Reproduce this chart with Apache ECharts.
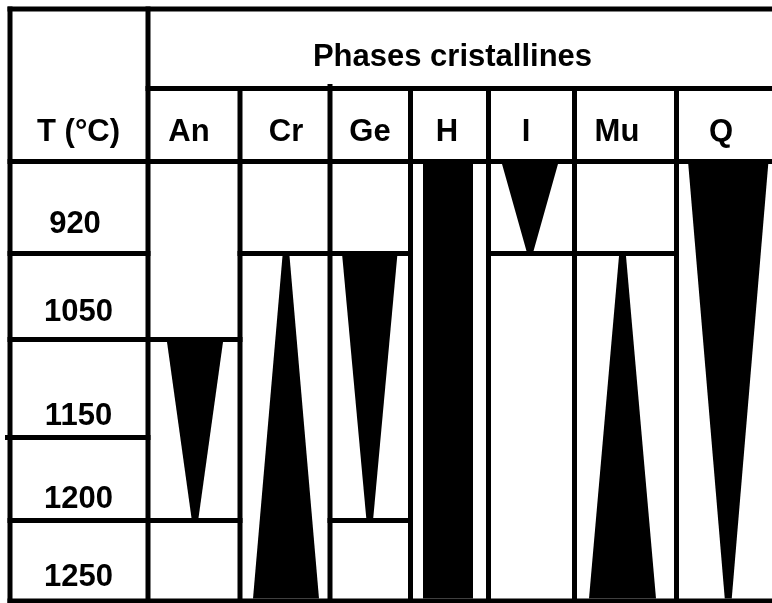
<!DOCTYPE html>
<html><head><meta charset="utf-8">
<script src="https://cdn.jsdelivr.net/npm/echarts@6/dist/echarts.min.js"></script>
<style>html,body{margin:0;padding:0;background:#fff}#c{width:772px;height:603px}</style>
</head><body><div id="c"></div>
<script>
// ---------------- data ----------------
const phases = ['An', 'Cr', 'Ge', 'H', 'I', 'Mu', 'Q'];
const temperatures = [920, 1050, 1150, 1200, 1250];
const phaseStart = [1150, 1050, 1050, 920, 920, 1050, 920];
const phaseEnd = [1200, 1250, 1200, 1250, 920, 1250, 1250];
const phaseTrend = ['down', 'up', 'down', 'flat', 'down', 'up', 'down'];
const groupTitle = 'Phases cristallines';
const tempTitle = 'T (°C)';

// ---------------- layout (grid units = px) ----------------
const colEdges = [10, 148, 240, 330, 410.5, 488.5, 574.5, 676.5, 782];
const tableTop = 9, groupLine = 88.5, headerLine = 161.5;
const rowEdges = [161.5, 253.5, 339.5, 437.5, 520.5, 601];
const markWidth = [56, 66, 55, 50, 56, 67, 80];
const markShift = [1, 1, -0.5, -1.5, -1.5, -3, -1];
const apexWidth = 7;
const lineW = 5;
const phaseLabelX = [189, 286, 370, 447, 526, 617, 721];
const phaseLabelY = 132;
const tempLabelX = [75, 78.5, 78.5, 78.5, 78.5];
const tempLabelY = [224, 312, 416, 499, 577];
const groupLabelPos = [452.5, 57];
const tempTitlePos = [78.5, 132];
const FONT = {fontSize: 31, fontWeight: 'bold', fontFamily: 'Liberation Sans, Arial, sans-serif'};

// ---------------- table rules ----------------
const segs = [];
const W = colEdges[colEdges.length - 1];
const B = rowEdges[rowEdges.length - 1];
segs.push([colEdges[0], tableTop, W, tableTop]);
segs.push([colEdges[1], groupLine, W, groupLine]);
segs.push([colEdges[0], headerLine, W, headerLine]);
segs.push([colEdges[0], B, W, B]);
segs.push([colEdges[0], tableTop, colEdges[0], B]);
segs.push([colEdges[1], tableTop, colEdges[1], B]);
for (let k = 2; k < colEdges.length - 1; k++) segs.push([colEdges[k], groupLine, colEdges[k], B]);
segs.push([colEdges[3], groupLine - 2, colEdges[3], groupLine]);
for (let r = 1; r < rowEdges.length - 1; r++) segs.push([colEdges[0], rowEdges[r], colEdges[1], rowEdges[r]]);
segs.push([colEdges[0] - 2.5, rowEdges[3], colEdges[0], rowEdges[3]]);
phases.forEach((p, i) => {
  const s = temperatures.indexOf(phaseStart[i]);
  const e = temperatures.indexOf(phaseEnd[i]);
  const x1 = colEdges[i + 1], x2 = colEdges[i + 2];
  if (s > 0) segs.push([x1, rowEdges[s], x2, rowEdges[s]]);
  if (e < temperatures.length - 1) segs.push([x1, rowEdges[e + 1], x2, rowEdges[e + 1]]);
});

// ---------------- marks ----------------
const markData = phases.map((p, i) => [i, temperatures.indexOf(phaseStart[i]), temperatures.indexOf(phaseEnd[i])]);

// ---------------- labels ----------------
const labelData = [];
labelData.push([groupLabelPos[0], groupLabelPos[1], groupTitle]);
labelData.push([tempTitlePos[0], tempTitlePos[1], tempTitle]);
phases.forEach((p, i) => labelData.push([phaseLabelX[i], phaseLabelY, p]));
temperatures.forEach((t, i) => labelData.push([tempLabelX[i], tempLabelY[i], String(t)]));

const chart = echarts.init(document.getElementById('c'), null, {renderer: 'canvas'});
chart.setOption({
  animation: false,
  backgroundColor: '#ffffff',
  grid: {left: 0, right: 0, top: 0, bottom: 0},
  xAxis: {type: 'value', min: 0, max: 772, show: false},
  yAxis: {type: 'value', min: 0, max: 603, inverse: true, show: false},
  series: [
    {
      type: 'custom', coordinateSystem: 'cartesian2d', silent: true, z: 2,
      data: markData,
      renderItem: function (params, api) {
        const i = api.value(0), s = api.value(1), e = api.value(2);
        const cx = (colEdges[i + 1] + colEdges[i + 2]) / 2 + markShift[i];
        const yT = rowEdges[s] + lineW / 2, yB = rowEdges[e + 1] - lineW / 2;
        const w = markWidth[i];
        let topW = w, botW = w;
        if (phaseTrend[i] === 'down') botW = apexWidth;
        if (phaseTrend[i] === 'up') topW = apexWidth;
        const pts = [[cx - topW / 2, yT], [cx + topW / 2, yT], [cx + botW / 2, yB], [cx - botW / 2, yB]].map(p => api.coord(p));
        return {type: 'polygon', shape: {points: pts}, style: {fill: '#000'}};
      }
    },
    {
      type: 'custom', coordinateSystem: 'cartesian2d', silent: true, z: 3,
      data: segs,
      renderItem: function (params, api) {
        const a = api.coord([api.value(0), api.value(1)]);
        const b = api.coord([api.value(2), api.value(3)]);
        return {type: 'line', shape: {x1: a[0], y1: a[1], x2: b[0], y2: b[1]},
          style: {stroke: '#000', lineWidth: lineW, lineCap: 'square'}};
      }
    },
    {
      type: 'custom', coordinateSystem: 'cartesian2d', silent: true, z: 4,
      data: labelData,
      renderItem: function (params, api) {
        const d = labelData[params.dataIndex];
        const p = api.coord([d[0], d[1]]);
        return {type: 'text', x: p[0], y: p[1],
          style: Object.assign({text: d[2], fill: '#000', textAlign: 'center', textVerticalAlign: 'middle'}, FONT)};
      }
    }
  ]
});
</script>
</body></html>
